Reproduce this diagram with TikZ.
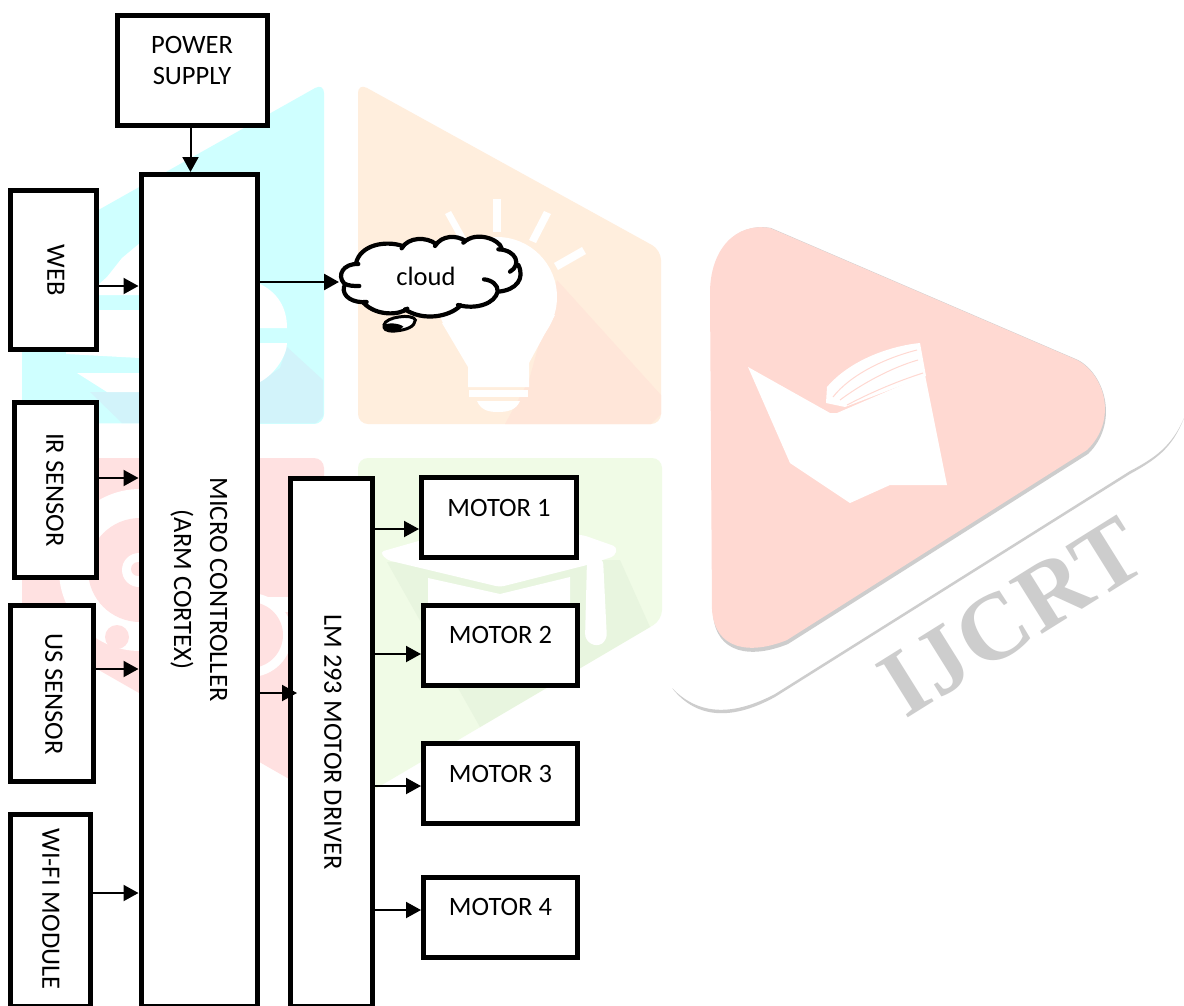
\documentclass[tikz,border=0pt]{standalone}
\usepackage{fontspec}
\setmainfont{Carlito}
\newfontfamily\wmfont[LetterSpace=2]{Liberation Serif}
\usetikzlibrary{arrows.meta}
\definecolor{wcyan}{HTML}{CFFFFF}
\definecolor{wcyand}{HTML}{D2F3FA}
\definecolor{wpeach}{HTML}{FFEEDD}
\definecolor{wpeachd}{HTML}{FFE6D9}
\definecolor{wpink}{HTML}{FFE1E1}
\definecolor{wgreen}{HTML}{F0FBE6}
\definecolor{wgreend}{HTML}{E8F5DF}
\definecolor{wred}{HTML}{FFD9D2}
\definecolor{wgray}{HTML}{CDCDCD}
\tikzset{
  box/.style={draw=black,line width=5pt,fill=white,inner sep=0pt,outer sep=2.5pt},
  txt/.style={inner sep=0pt,align=center,font=\fontsize{26.5}{32}\selectfont,text=black},
  vtxt/.style={txt,rotate=-90},
  arr/.style={line width=2pt,-{Triangle[length=15pt,width=16pt]}},
  arrb/.style={line width=2.6pt,-{Triangle[length=15pt,width=16pt]}},
  cloudline/.style={draw=black,line width=4.2pt,line cap=round,line join=round}
}
\begin{document}
\begin{tikzpicture}[x=1pt,y=-1pt]
\useasboundingbox (0,0) rectangle (1184,1005);
\fill[white] (0,0) rectangle (1184,1005);

% ---------- watermark: cyan tile
\fill[wcyan,rounded corners=10pt] (22,423) -- (22,253) -- (324,83) -- (324,424) -- cycle;
\fill[wcyand] (287,347) -- (323,380) -- (323,416) -- (316,423) -- (258,423) -- (258,383) -- (280,368) -- cycle;
\fill[wcyand] (90,392) -- (140,392) -- (140,423) -- (122,423) -- cycle;
\fill[white] (98,285) -- (107,277) -- (122,258) -- (140,243) -- (140,295) -- (98,295) -- cycle;
\fill[white] (70,310) -- (140,310) -- (140,358) -- (66,354) -- cycle;
\fill[white] (77,373) -- (140,373) -- (140,392) -- (107,392) -- cycle;
\fill[white] (258,283) .. controls (278,292) and (287,308) .. (287,328) -- (258,328) -- cycle;
\fill[white] (258,343) -- (287,343) .. controls (287,355) and (275,375) .. (258,383) -- cycle;

% ---------- watermark: peach tile
\fill[wpeach,rounded corners=10pt] (358,83) -- (661,250) -- (661,424) -- (358,424) -- cycle;
\fill[wpeachd] (557,280) -- (661,395) -- (661,414) -- (651,424) -- (505,424) -- (529,380) -- cycle;
\fill[white] (497,297) circle[radius=60];
\fill[white] (442,323) -- (468,367) -- (468,387) -- (529,387) -- (529,363) -- (555,315) -- cycle;
\fill[white] (469,390) rectangle (528,397);
\fill[white] (477,401) -- (520,401) .. controls (516,410) and (508,412) .. (498,412) .. controls (488,412) and (481,410) .. (477,401) -- cycle;
\fill[white] (493,199) rectangle (501,232);
\fill[white] (445,214) -- (451,211) -- (466,238) -- (460,241) -- cycle;
\fill[white] (544,211) -- (551,214) -- (536,243) -- (529,240) -- cycle;
\fill[white] (582,247) -- (586,254) -- (558,270) -- (554,263) -- cycle;

% ---------- watermark: pink tile
\fill[wpink,rounded corners=10pt] (22,458) -- (324,458) -- (324,799) -- (22,626) -- cycle;
\fill[white] (140,570) circle[radius=81];
\fill[wpink] (140,570) circle[radius=52];
\fill[white] (139,570) circle[radius=17];
\fill[wpink] (138,569) circle[radius=7];
\fill[white] (250,635) circle[radius=42];
\fill[white] (262,597) rectangle (290,612);
\fill[wpink] (250,635) circle[radius=33];
\fill[wpink] (117,637) circle[radius=12];

% ---------- watermark: green tile
\fill[wgreen,rounded corners=10pt] (358,458) -- (662,458) -- (662,620) -- (358,799) -- cycle;
\fill[wgreend] (387,562) -- (480,727) -- (650,627) -- (620,560) -- cycle;
\fill[white,rounded corners=4pt] (380,552) -- (450,532) -- (583,535) -- (617,547) -- (615,556) -- (587,565) -- (500,587) -- (387,560) -- cycle;
\fill[white] (428,578) -- (500,594) -- (570,577) -- (570,640) -- (428,640) -- cycle;
\fill[white,rounded corners=6pt] (587,560) -- (603,558) -- (607,640) -- (597,647) -- (585,640) -- cycle;

% ---------- watermark: book triangle
\fill[wgray] (1184,418) .. controls (1172,449) and (1155,460) .. (1130,474)
  -- (775,697) .. controls (735,719) and (698,721) .. (672,688)
  .. controls (700,717) and (735,715) .. (775,694) -- (1130,471)
  .. controls (1155,458) and (1172,446) .. cycle;
\fill[wgray] (711,293) .. controls (711,250) and (736,222) .. (771,228) -- (1078,360)
  .. controls (1106,375) and (1119,424) .. (1088,454) -- (788,644)
  .. controls (751,659) and (716,654) .. (713,614) -- cycle;
\fill[wred] (710,293) .. controls (710,250) and (735,222) .. (770,228) -- (1077,360)
  .. controls (1105,375) and (1118,420) .. (1087,450) -- (787,640)
  .. controls (750,655) and (715,650) .. (712,610) -- cycle;
\fill[white] (748,367) -- (830,413) -- (837,413) -- (925,375) -- (947,485) -- (890,485) -- (850,503) -- (790,463) -- cycle;
\fill[white] (826,403) -- (827,387) .. controls (850,360) and (890,346) .. (920,343) -- (926,376) -- (845,407) -- cycle;
\draw[wred,line width=1pt] (833,397) .. controls (850,375) and (885,358) .. (917,350);
\draw[wred,line width=1pt] (840,400) .. controls (860,385) and (890,368) .. (918,360);
\draw[wred,line width=1pt] (847,405) .. controls (870,393) and (895,382) .. (923,373);
\node[rotate=32,inner sep=0pt,text=wgray,font=\wmfont\bfseries\fontsize{95}{100}\selectfont] (wm) at (1012,617) {IJCRT};

% ---------- blocks
\node[box,minimum width=150pt,minimum height=110pt] (power) at (192.5,70.5) {};
\node[box,minimum width=116.5pt,minimum height=831.5pt] (mcu) at (199.25,590.25) {};
\node[box,minimum width=85.5pt,minimum height=159pt] (web) at (53.25,270) {};
\node[box,minimum width=81.5pt,minimum height=175.5pt] (ir) at (55.25,489.75) {};
\node[box,minimum width=83pt,minimum height=176pt] (us) at (52,693.5) {};
\node[box,minimum width=80pt,minimum height=191.5pt] (wifi) at (50.5,910.25) {};
\node[box,minimum width=82pt,minimum height=527.5pt] (lm) at (331.5,742.25) {};
\node[box,minimum width=155pt,minimum height=80pt] (m1) at (499,517.5) {};
\node[box,minimum width=154pt,minimum height=80pt] (m2) at (500.5,645.5) {};
\node[box,minimum width=154pt,minimum height=80pt] (m3) at (500.5,783.5) {};
\node[box,minimum width=154pt,minimum height=80pt] (m4) at (500.5,917.5) {};

% ---------- cloud outline
\begin{scope}[shift={(320,220)},scale=1/3]
\fill[white] (105,130) .. controls (70,135) and (50,165) .. (70,195) .. controls (65,230) and (100,250) .. (140,250)
  .. controls (180,290) and (240,285) .. (260,270) .. controls (310,305) and (390,290) .. (420,260)
  .. controls (470,270) and (525,250) .. (535,215) .. controls (590,210) and (615,175) .. (595,135)
  .. controls (600,105) and (570,85) .. (540,85) .. controls (540,60) and (470,30) .. (430,65)
  .. controls (410,45) and (365,45) .. (345,75) .. controls (320,50) and (265,50) .. (245,80)
  .. controls (195,60) and (120,75) .. cycle;
\draw[cloudline] (115,132) .. controls (70,130) and (50,165) .. (72,190) .. controls (85,198) and (100,198) .. (118,198);
\draw[cloudline] (72,200) .. controls (65,230) and (100,250) .. (140,246);
\draw[cloudline] (130,248) .. controls (170,290) and (240,285) .. (262,266);
\draw[cloudline] (255,268) .. controls (310,305) and (390,290) .. (422,256);
\draw[cloudline] (414,255) .. controls (470,270) and (525,250) .. (533,215) .. controls (535,195) and (515,180) .. (492,178);
\draw[cloudline] (535,215) .. controls (590,210) and (615,175) .. (595,135);
\draw[cloudline] (570,155) .. controls (605,135) and (590,90) .. (535,88);
\draw[cloudline] (545,85) .. controls (540,60) and (470,30) .. (430,68);
\draw[cloudline] (435,62) .. controls (410,45) and (365,45) .. (345,78);
\draw[cloudline] (348,72) .. controls (320,50) and (265,50) .. (245,85);
\draw[cloudline] (248,78) .. controls (195,60) and (120,75) .. (108,130);
\draw[draw=black,line width=3pt,fill=white] (192,315) .. controls (195,290) and (280,280) .. (286,300) .. controls (285,320) and (260,330) .. (225,333) .. controls (195,335) and (190,325) .. (192,315) -- cycle;
\fill[black] (190,318) .. controls (200,305) and (240,310) .. (250,320) .. controls (240,335) and (195,340) .. (190,318) -- cycle;
\end{scope}

% ---------- labels
\node[txt] (tpower) at (192,60) {POWER\\[-1pt]SUPPLY};
\node[vtxt] (tweb) at (56,270) {WEB};
\node[vtxt] (tir) at (55,490) {IR SENSOR};
\node[vtxt] (tus) at (54,694) {US SENSOR};
\node[vtxt] (twifi) at (51,909) {WI-FI MODULE};
\node[vtxt] (tmcu) at (199,589.5) {MICRO CONTROLLER\\[4pt](ARM CORTEX)};
\node[vtxt] (tlm) at (333,742) {LM 293 MOTOR DRIVER};
\node[txt] (tm1) at (499,507.5) {MOTOR 1};
\node[txt] (tm2) at (500.5,635) {MOTOR 2};
\node[txt] (tm3) at (500.5,773.5) {MOTOR 3};
\node[txt] (tm4) at (500.5,907) {MOTOR 4};
\node[txt] (cloud) at (426,276) {cloud};

% ---------- connectors
\coordinate (rowweb) at (0,286);
\coordinate (rowir) at (0,478);
\coordinate (rowus) at (0,669);
\coordinate (rowwifi) at (0,893);
\coordinate (rowcloud) at (0,282);
\coordinate (cloudin) at (339,282);
\coordinate (rowlm) at (0,693);
\coordinate (lmin) at (297,693);
\coordinate (colpow) at (190.5,0);
\coordinate (row1) at (0,529);
\coordinate (row2) at (0,654);
\coordinate (row3) at (0,786);
\coordinate (row4) at (0,910);
\draw[arr] (power.south -| colpow) -- (mcu.north -| colpow);
\draw[arr] (web.east |- rowweb) -- (mcu.west |- rowweb);
\draw[arr] (ir.east |- rowir) -- (mcu.west |- rowir);
\draw[arr] (us.east |- rowus) -- (mcu.west |- rowus);
\draw[arr] (wifi.east |- rowwifi) -- (mcu.west |- rowwifi);
\draw[arrb] (mcu.east |- rowcloud) -- (cloudin);
\draw[arr] (mcu.east |- rowlm) -- (lmin);
\draw[arr] (lm.east |- row1) -- (m1.west |- row1);
\draw[arr] (lm.east |- row2) -- (m2.west |- row2);
\draw[arr] (lm.east |- row3) -- (m3.west |- row3);
\draw[arr] (lm.east |- row4) -- (m4.west |- row4);
\end{tikzpicture}
\end{document}
